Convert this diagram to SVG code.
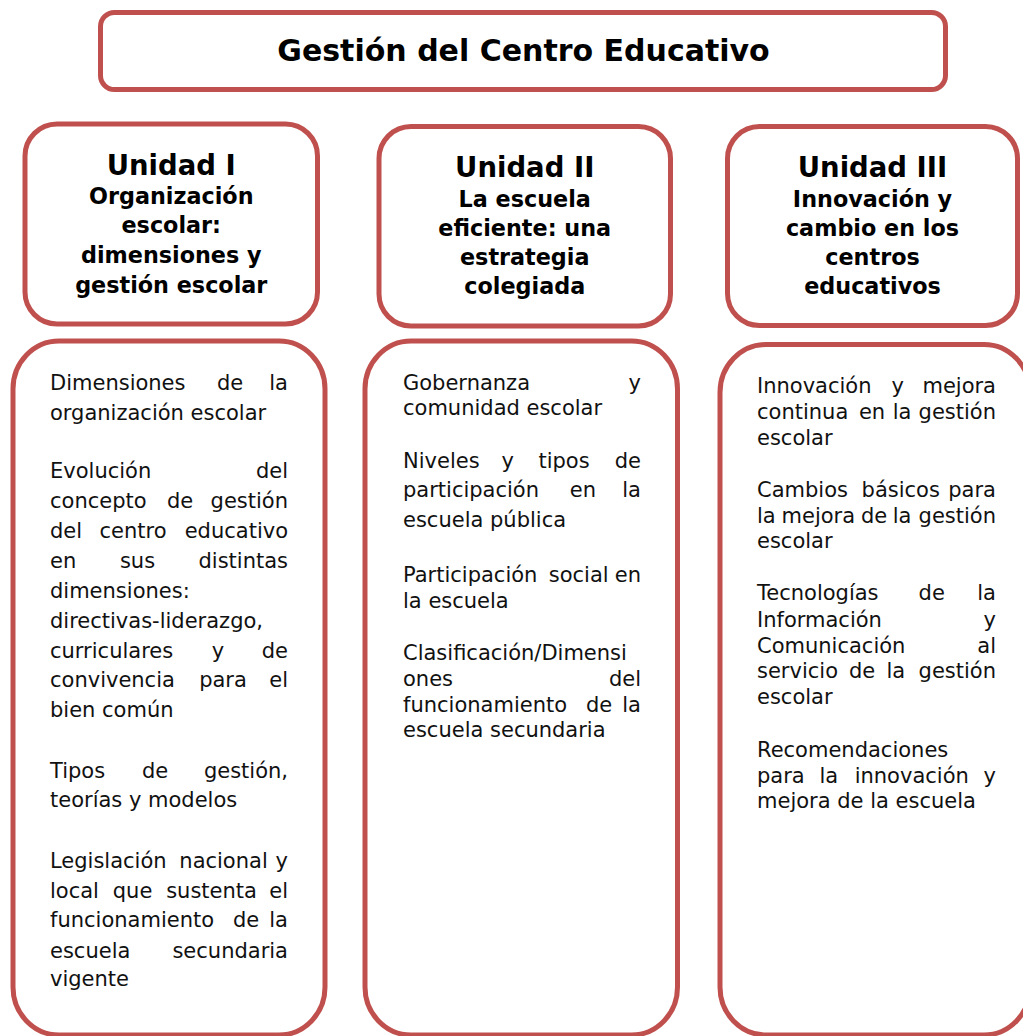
<svg xmlns="http://www.w3.org/2000/svg" width="1023" height="1036" viewBox="0 0 1023 1036">
<style>
.box{fill:#fff;stroke:#C0504D;stroke-width:5}
.t{font-family:"DejaVu Sans","Liberation Sans",sans-serif;font-weight:bold;font-size:30px;fill:#000;text-anchor:middle}
.u{font-family:"DejaVu Sans","Liberation Sans",sans-serif;font-weight:bold;font-size:27.5px;fill:#000;text-anchor:middle}
.s{font-family:"DejaVu Sans","Liberation Sans",sans-serif;font-weight:bold;font-size:22.3px;fill:#000;text-anchor:middle}
.b{font-family:"DejaVu Sans","Liberation Sans",sans-serif;font-size:21px;fill:#111}
.m{text-anchor:middle}
.e{text-anchor:end}
</style>
<rect width="1023" height="1036" fill="#fff"/>
<g id="connectors"/>
<g id="title">
<rect class="box" x="100.5" y="12.5" width="845" height="77" rx="14"/>
<text class="t" x="523.5" y="61">Gestión del Centro Educativo</text>
</g>
<g id="unidad1">
<rect class="box" x="25" y="124" width="292.5" height="200" rx="32"/>
<text class="u" x="171.25" y="175">Unidad I</text>
<text class="s" x="171.25" y="204">Organización</text>
<text class="s" x="171.25" y="233.3">escolar:</text>
<text class="s" x="171.25" y="263">dimensiones y</text>
<text class="s" x="171.25" y="292.5">gestión escolar</text>
</g>
<g id="unidad2">
<rect class="box" x="379" y="126.5" width="291.5" height="199.5" rx="32"/>
<text class="u" x="524.75" y="176.7">Unidad II</text>
<text class="s" x="524.75" y="206.7">La escuela</text>
<text class="s" x="524.75" y="236">eficiente: una</text>
<text class="s" x="524.75" y="265">estrategia</text>
<text class="s" x="524.75" y="294">colegiada</text>
</g>
<g id="unidad3">
<rect class="box" x="727.5" y="126.5" width="290" height="199" rx="32"/>
<text class="u" x="872.5" y="176.7">Unidad III</text>
<text class="s" x="872.5" y="206.7">Innovación y</text>
<text class="s" x="872.5" y="236">cambio en los</text>
<text class="s" x="872.5" y="265">centros</text>
<text class="s" x="872.5" y="294">educativos</text>
</g>
<g id="temas1">
<rect class="box" x="13" y="341" width="312" height="694" rx="46" ry="48"/>
<text class="b" y="390"><tspan x="50">Dimensiones</tspan><tspan class="m" x="226.7"> de</tspan><tspan class="e" x="288"> la</tspan></text>
<text class="b" x="50" y="419.5">organización escolar</text>
<text class="b" y="478"><tspan x="50">Evolución</tspan><tspan class="e" x="288"> del</tspan></text>
<text class="b" y="508"><tspan x="50">concepto</tspan><tspan class="m" x="176.7"> de</tspan><tspan class="e" x="288"> gestión</tspan></text>
<text class="b" y="538"><tspan x="50">del</tspan><tspan class="m" x="129.7"> centro</tspan><tspan class="e" x="288"> educativo</tspan></text>
<text class="b" y="568"><tspan x="50">en</tspan><tspan class="m" x="134.2"> sus</tspan><tspan class="e" x="288"> distintas</tspan></text>
<text class="b" x="50" y="598">dimensiones:</text>
<text class="b" x="50" y="627.7">directivas-liderazgo,</text>
<text class="b" y="657.7"><tspan x="50">curriculares</tspan><tspan class="m" x="214.7"> y</tspan><tspan class="e" x="288"> de</tspan></text>
<text class="b" y="687"><tspan x="50">convivencia</tspan><tspan class="m" x="219.7"> para</tspan><tspan class="e" x="288"> el</tspan></text>
<text class="b" x="50" y="716.7">bien común</text>
<text class="b" y="777.7"><tspan x="50">Tipos</tspan><tspan class="m" x="151.7"> de</tspan><tspan class="e" x="288"> gestión,</tspan></text>
<text class="b" x="50" y="806.7">teorías y modelos</text>
<text class="b" y="868"><tspan x="50">Legislación</tspan><tspan class="m" x="220.2"> nacional</tspan><tspan class="e" x="288"> y</tspan></text>
<text class="b" y="897.5"><tspan x="50">local</tspan><tspan class="m" x="129.2"> que</tspan><tspan class="m" x="208.2"> sustenta</tspan><tspan class="e" x="288"> el</tspan></text>
<text class="b" y="927.3"><tspan x="50">funcionamiento</tspan><tspan class="m" x="242.7"> de</tspan><tspan class="e" x="288"> la</tspan></text>
<text class="b" y="957.5"><tspan x="50">escuela</tspan><tspan class="e" x="288"> secundaria</tspan></text>
<text class="b" x="50" y="986">vigente</text>
</g>
<g id="temas2">
<rect class="box" x="365" y="341" width="312.5" height="694" rx="46" ry="48"/>
<text class="b" y="390"><tspan x="403">Gobernanza</tspan><tspan class="e" x="641"> y</tspan></text>
<text class="b" x="403" y="415">comunidad escolar</text>
<text class="b" y="467.7"><tspan x="403">Niveles</tspan><tspan class="m" x="504.5"> y</tspan><tspan class="m" x="560.7"> tipos</tspan><tspan class="e" x="641"> de</tspan></text>
<text class="b" y="496.7"><tspan x="403">participación</tspan><tspan class="m" x="579.5"> en</tspan><tspan class="e" x="641"> la</tspan></text>
<text class="b" x="403" y="526.7">escuela pública</text>
<text class="b" y="582.3"><tspan x="403">Participación</tspan><tspan class="m" x="575.4"> social</tspan><tspan class="e" x="641"> en</tspan></text>
<text class="b" x="403" y="607.7">la escuela</text>
<text class="b" x="403" y="660">Clasificación/Dimensi</text>
<text class="b" y="686"><tspan x="403">ones</tspan><tspan class="e" x="641"> del</tspan></text>
<text class="b" y="711.7"><tspan x="403">funcionamiento</tspan><tspan class="m" x="595.7"> de</tspan><tspan class="e" x="641"> la</tspan></text>
<text class="b" x="403" y="737.3">escuela secundaria</text>
</g>
<g id="temas3">
<rect class="box" x="720" y="344.5" width="310" height="690.5" rx="46" ry="48"/>
<text class="b" y="392.7"><tspan x="757">Innovación</tspan><tspan class="m" x="894.5"> y</tspan><tspan class="e" x="996"> mejora</tspan></text>
<text class="b" y="419"><tspan x="757">continua</tspan><tspan class="m" x="868.7"> en</tspan><tspan class="m" x="898.7"> la</tspan><tspan class="e" x="996"> gestión</tspan></text>
<text class="b" x="757" y="445">escolar</text>
<text class="b" y="496.7"><tspan x="757">Cambios</tspan><tspan class="m" x="897.4"> básicos</tspan><tspan class="e" x="996"> para</tspan></text>
<text class="b" y="522.7"><tspan x="757">la</tspan><tspan class="m" x="815"> mejora</tspan><tspan class="m" x="870.7"> de</tspan><tspan class="m" x="898.7"> la</tspan><tspan class="e" x="996"> gestión</tspan></text>
<text class="b" x="757" y="548.3">escolar</text>
<text class="b" y="600"><tspan x="757">Tecnologías</tspan><tspan class="m" x="928.4"> de</tspan><tspan class="e" x="996"> la</tspan></text>
<text class="b" y="626.7"><tspan x="757">Información</tspan><tspan class="e" x="996"> y</tspan></text>
<text class="b" y="652.7"><tspan x="757">Comunicación</tspan><tspan class="e" x="996"> al</tspan></text>
<text class="b" y="678.3"><tspan x="757">servicio</tspan><tspan class="m" x="858.7"> de</tspan><tspan class="m" x="892.4"> la</tspan><tspan class="e" x="996"> gestión</tspan></text>
<text class="b" x="757" y="704">escolar</text>
<text class="b" x="757" y="756.7">Recomendaciones</text>
<text class="b" y="782.7"><tspan x="757">para</tspan><tspan class="m" x="825.4"> la</tspan><tspan class="m" x="908.4"> innovación</tspan><tspan class="e" x="996"> y</tspan></text>
<text class="b" x="757" y="808.3">mejora de la escuela</text>
</g>
</svg>
